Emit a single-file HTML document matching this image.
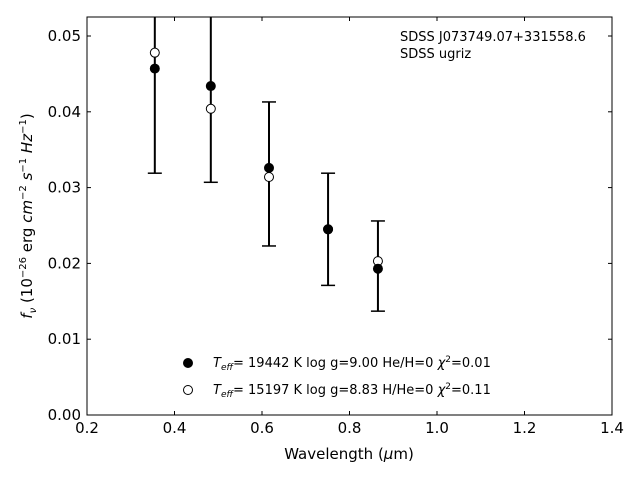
<!DOCTYPE html>
<html><head><meta charset="utf-8"><style>
html,body{margin:0;padding:0;background:#fff;}
svg{display:block;font-family:"DejaVu Sans","Liberation Sans",sans-serif;}
</style></head><body>
<svg id="chart" width="640" height="480" viewBox="0 0 640 480" xmlns="http://www.w3.org/2000/svg">
<defs><clipPath id="clip"><rect x="87" y="17" width="525" height="398"/></clipPath></defs>
<g id="errs" clip-path="url(#clip)"></g>
<g id="marks"></g>
<rect x="87" y="17" width="525" height="398" fill="none" stroke="#000" stroke-width="1"/>
<g id="ticks"></g>
<text x="400" y="41" font-size="13">SDSS J073749.07+331558.6</text>
<text x="400" y="58" font-size="13">SDSS ugriz</text>
<g>
<circle cx="188" cy="363" r="4.5" fill="#000" stroke="#000"/>
<text x="213" y="367" font-size="13"><tspan font-style="italic">T</tspan><tspan font-style="italic" font-size="9" dy="3">eff</tspan><tspan dy="-3">= 19442 K  log g=9.00  He/H=0  </tspan><tspan font-style="italic">χ</tspan><tspan font-size="9" dy="-5">2</tspan><tspan dy="5">=0.01</tspan></text>
<circle cx="188" cy="390" r="4.5" fill="#fff" stroke="#000"/>
<text x="213" y="394" font-size="13"><tspan font-style="italic">T</tspan><tspan font-style="italic" font-size="9" dy="3">eff</tspan><tspan dy="-3">= 15197 K  log g=8.83  H/He=0  </tspan><tspan font-style="italic">χ</tspan><tspan font-size="9" dy="-5">2</tspan><tspan dy="5">=0.11</tspan></text>
</g>
<text x="349" y="459" font-size="15" text-anchor="middle">Wavelength (<tspan font-style="italic">μ</tspan>m)</text>
<text transform="translate(32,216) rotate(-90)" font-size="15" text-anchor="middle"><tspan font-style="italic">f</tspan><tspan font-style="italic" font-size="10" dy="4">ν</tspan><tspan dy="-4"> (10</tspan><tspan font-size="10" dy="-6">−26</tspan><tspan dy="6"> erg </tspan><tspan font-style="italic">cm</tspan><tspan font-size="10" dy="-6">−2</tspan><tspan dy="6"> </tspan><tspan font-style="italic">s</tspan><tspan font-size="10" dy="-6">−1</tspan><tspan dy="6"> </tspan><tspan font-style="italic">Hz</tspan><tspan font-size="10" dy="-6">−1</tspan><tspan dy="6">)</tspan></text>
</svg>
<script>
const wavelengths = [0.355, 0.483, 0.616, 0.751, 0.865];
const modelFilled = [0.0457, 0.0434, 0.0326, 0.0245, 0.0193];
const modelOpen = [0.0478, 0.0404, 0.0314, 0.0245, 0.0203];
const errLower = [0.0319, 0.0307, 0.0223, 0.0171, 0.0137];
const errUpper = [0.0640, 0.0620, 0.0413, 0.0319, 0.0256];
const capLower = [true, true, true, true, true];
const capUpper = [false, false, true, true, true];
const xTicks = [0.2, 0.4, 0.6, 0.8, 1.0, 1.2, 1.4];
const xTickLabels = ["0.2", "0.4", "0.6", "0.8", "1.0", "1.2", "1.4"];
const yTicks = [0, 0.01, 0.02, 0.03, 0.04, 0.05];
const yTickLabels = ["0.00", "0.01", "0.02", "0.03", "0.04", "0.05"];

const X = v => 87 + (v - 0.2) / 1.2 * 525;
const Y = v => 415 - v / 0.05 * 379;
const NS = "http://www.w3.org/2000/svg";
function mk(tag, attrs, parent) {
  const e = document.createElementNS(NS, tag);
  for (const k in attrs) e.setAttribute(k, attrs[k]);
  parent.appendChild(e);
  return e;
}
const errs = document.getElementById('errs');
const marks = document.getElementById('marks');
const ticks = document.getElementById('ticks');
wavelengths.forEach((w, i) => {
  const x = X(w);
  const l = mk('line', {x1: x, x2: x, y1: Y(errLower[i]), y2: Y(errUpper[i]), stroke: '#000', 'stroke-width': 2}, errs);
  
  
  if (capLower[i]) {
    const c = mk('line', {x1: x - 7, x2: x + 7, y1: Y(errLower[i]), y2: Y(errLower[i]), stroke: '#000', 'stroke-width': 1.5}, errs);
    
    
  }
  if (capUpper[i]) {
    const c = mk('line', {x1: x - 7, x2: x + 7, y1: Y(errUpper[i]), y2: Y(errUpper[i]), stroke: '#000', 'stroke-width': 1.5}, errs);
    
    
  }
});
wavelengths.forEach((w, i) => {
  const o = mk('circle', {cx: X(w), cy: Y(modelOpen[i]), r: 4.5, fill: '#fff', stroke: '#000', 'stroke-width': 1}, marks);
  
  
  const f = mk('circle', {cx: X(w), cy: Y(modelFilled[i]), r: 4.5, fill: '#000', stroke: '#000', 'stroke-width': 1}, marks);
  
  
});
xTicks.forEach((v, i) => {
  const x = X(v);
  mk('line', {x1: x, x2: x, y1: 415, y2: 411, stroke: '#000'}, ticks);
  mk('line', {x1: x, x2: x, y1: 17, y2: 21, stroke: '#000'}, ticks);
  const t = mk('text', {x: x, y: 433, 'font-size': 15, 'text-anchor': 'middle'}, ticks);
  t.textContent = xTickLabels[i];
  
  
});
yTicks.forEach((v, i) => {
  const y = Y(v);
  mk('line', {x1: 87, x2: 91, y1: y, y2: y, stroke: '#000'}, ticks);
  mk('line', {x1: 612, x2: 608, y1: y, y2: y, stroke: '#000'}, ticks);
  const t = mk('text', {x: 81, y: y + 5, 'font-size': 15, 'text-anchor': 'end'}, ticks);
  t.textContent = yTickLabels[i];
  
  
});
</script>
</body></html>
